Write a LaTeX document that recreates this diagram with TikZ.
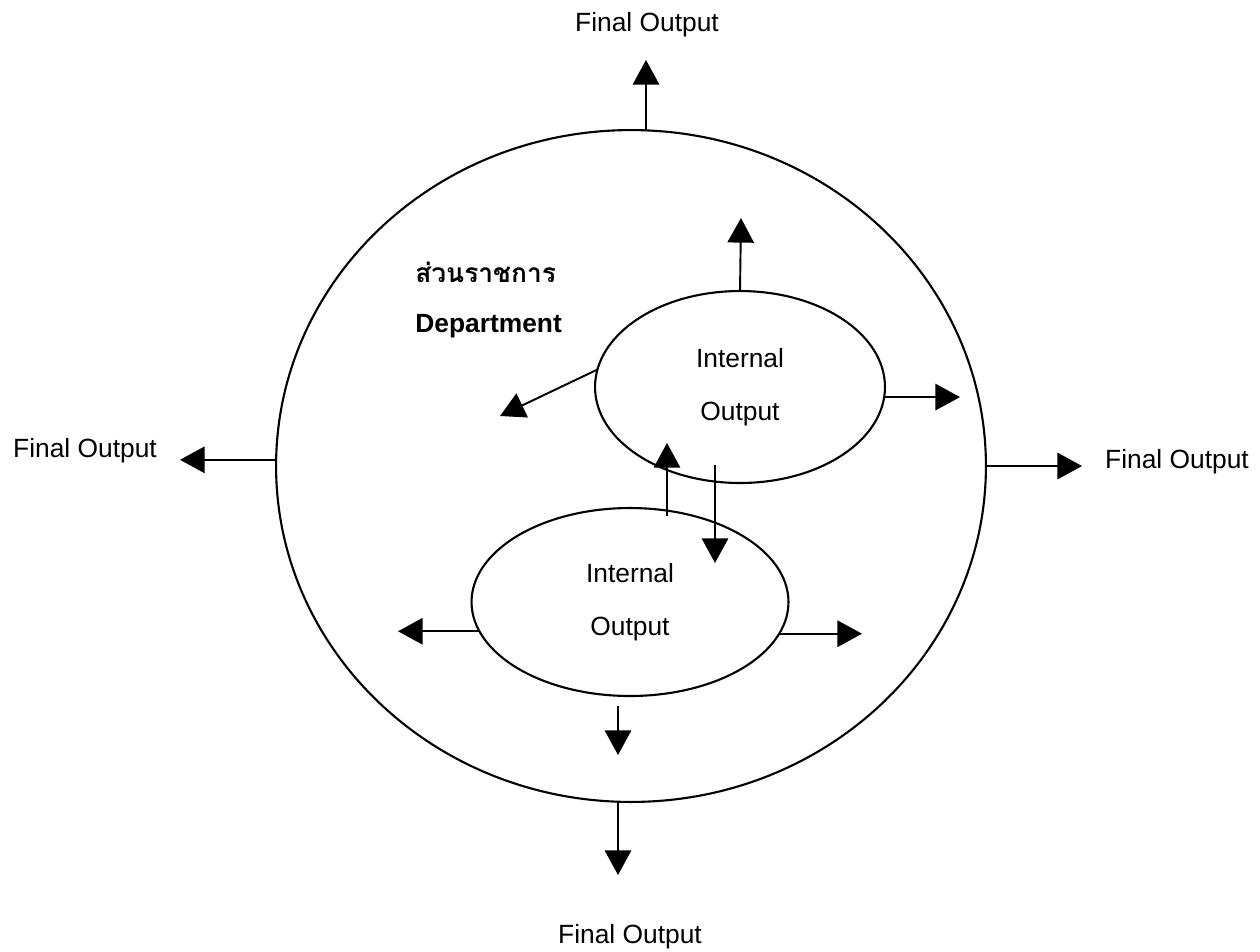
\documentclass[tikz,border=0pt]{standalone}
\usepackage{fontspec}
\setmainfont{Liberation Sans}
\newfontfamily\thaifont[Script=Thai]{Loma}
\usetikzlibrary{shapes.geometric,arrows.meta}

\tikzset{
  outline/.style={draw, line width=1.2pt, ellipse, outer sep=0pt, inner sep=0pt},
  flow/.style={line width=1.1pt, -{Triangle[length=14pt,width=15pt]}},
  label/.style={font=\fontsize{15}{17}\selectfont, inner sep=0pt},
  inner/.style={outline, align=center, font=\fontsize{15}{17}\selectfont}
}

\begin{document}
\begin{tikzpicture}[x=0.02cm, y=-0.02cm]
  \useasboundingbox (0,0) rectangle (1260,951);

  % department boundary and the two internal units
  \node[outline, minimum width=14.2cm, minimum height=13.44cm] (dept) at (631,466) {};
  \node[inner, minimum width=5.8cm, minimum height=3.84cm] (upper) at (740,387)
    {Internal\\[13pt]Output};
  \node[inner, minimum width=6.34cm, minimum height=3.76cm] (lower) at (630,602)
    {Internal\\[13pt]Output};

  % department name
  \node[label, anchor=west, font=\fontsize{15}{17}\selectfont\thaifont\bfseries] (thname) at (415,272) {ส่วนราชการ};
  \node[label, anchor=west, font=\fontsize{15}{17}\selectfont\bfseries] (enname) at (415,326) {Department};

  % final output labels
  \node[label] (outTop) at (647,25) {Final Output};
  \node[label] (outLeft) at (85,451) {Final Output};
  \node[label] (outRight) at (1177,462) {Final Output};
  \node[label] (outBottom) at (630,937) {Final Output};

  % arrow ends
  \coordinate (tTop) at (646,60);
  \coordinate (tLeft) at (180,462);
  \coordinate (tRight) at (1082,470);
  \coordinate (tBottom) at (618,875);
  \coordinate (uTop) at (741,218);
  \coordinate (uLeft) at (500,416);
  \coordinate (uRight) at (960,397);
  \coordinate (lLeft) at (398,632);
  \coordinate (lRight) at (862,634);
  \coordinate (lDownStart) at (618,706);
  \coordinate (lDown) at (618,755);
  \coordinate (upStart) at (667,516);
  \coordinate (upTip) at (667,443);
  \coordinate (downStart) at (715,465);
  \coordinate (downTip) at (715,563);

  % final outputs leaving the department
  \draw[flow] (tTop |- dept.north) -- (tTop);
  \draw[flow] (dept.179.4) -- (dept.179.4 -| tLeft);
  \draw[flow] (dept.-0.6) -- (dept.-0.6 -| tRight);
  \draw[flow] (tBottom |- dept.south) -- (tBottom);

  % outputs of the upper unit
  \draw[flow] (upper.north) -- (uTop);
  \draw[flow] (upper.173) -- (uLeft);
  \draw[flow] (upper.-4) -- (upper.-4 -| uRight);

  % outputs of the lower unit
  \draw[flow] (lower.191.8) -- (lower.191.8 -| lLeft);
  \draw[flow] (lower.-12.6) -- (lower.-12.6 -| lRight);
  \draw[flow] (lDownStart) -- (lDown);

  % exchange between the units
  \draw[flow] (upStart) -- (upTip);
  \draw[flow] (downStart) -- (downTip);
\end{tikzpicture}
\end{document}
